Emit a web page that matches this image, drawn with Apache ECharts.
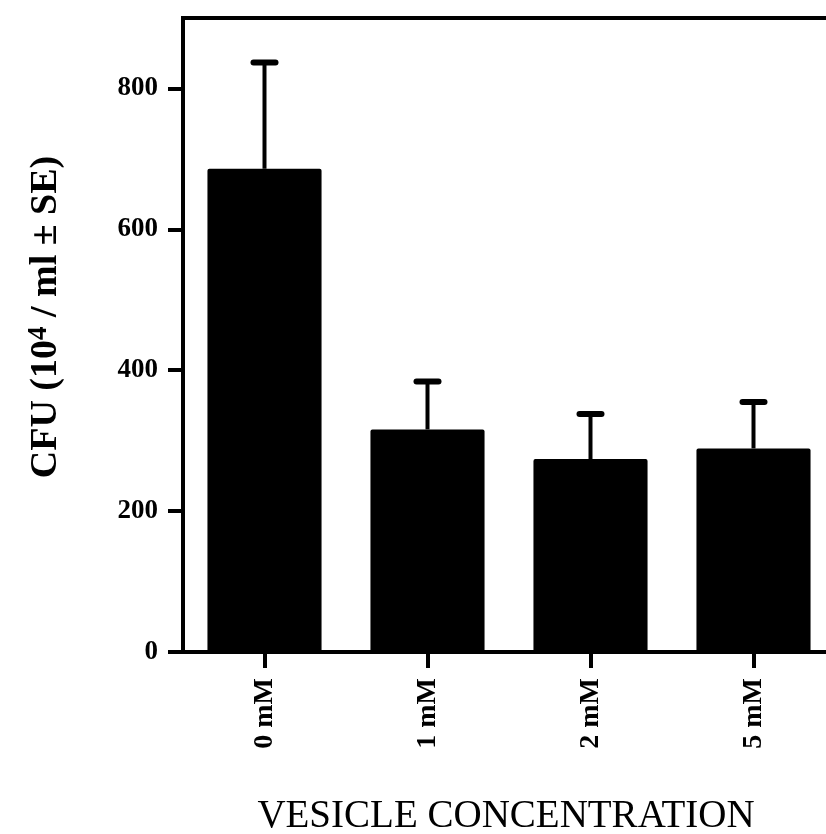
<!DOCTYPE html>
<html>
<head>
<meta charset="utf-8">
<script src="https://cdn.jsdelivr.net/npm/echarts@6/dist/echarts.min.js"></script>
<style>html,body{margin:0;padding:0;background:#fff;}#c{width:826px;height:834px;}</style>
</head>
<body>
<div id="c"></div>
<script>
const categories = ['0 mM', '1 mM', '2 mM', '5 mM'];
const means = [686, 316, 274, 289];
const upperErr = [837, 384, 338, 355];
const yTicks = [0, 200, 400, 600, 800];

const chart = echarts.init(document.getElementById('c'));
const font = '"Liberation Serif", "Times New Roman", serif';
chart.setOption({
  animation: false,
  backgroundColor: '#fff',
  grid: { left: 183, top: 18, width: 652, height: 634, outerBoundsMode: 'none', containLabel: false, show: true, borderColor: '#000', borderWidth: 4, backgroundColor: 'transparent' },
  xAxis: {
    type: 'category',
    data: categories,
    name: 'VESICLE CONCENTRATION',
    nameLocation: 'middle',
    nameGap: 145,
    nameTextStyle: { fontFamily: font, fontSize: 39, color: '#000', padding: [0, 6, 0, 0] },
    axisLine: { lineStyle: { color: '#000', width: 4 } },
    axisTick: { show: true, alignWithLabel: true, length: 16, lineStyle: { color: '#000', width: 4 } },
    axisLabel: { rotate: 90, margin: 26, fontFamily: font, fontWeight: 'bold', fontSize: 28, color: '#000' }
  },
  yAxis: {
    type: 'value',
    min: 0, max: 900, interval: 200,
    name: '{a|CFU (10}{s|4}{a| / ml ± SE)}',
    nameLocation: 'middle',
    nameGap: 116,
    nameTextStyle: {
      padding: [0, 0, 0, 36],
      rich: {
        a: { fontFamily: font, fontWeight: 'bold', fontSize: 38, color: '#000' },
        s: { fontFamily: font, fontWeight: 'bold', fontSize: 27, color: '#000', verticalAlign: 'top', padding: [0, 0, 14, 0] }
      }
    },
    splitLine: { show: false },
    axisLine: { show: true, lineStyle: { color: '#000', width: 4 } },
    axisTick: { show: true, customValues: yTicks, length: 15, lineStyle: { color: '#000', width: 4 } },
    axisLabel: {
      customValues: yTicks,
      margin: 25, fontFamily: font, fontWeight: 'bold', fontSize: 27, color: '#000'
    }
  },
  series: [
    {
      type: 'custom',
      z: 1,
      renderItem: function (params, api) {
        const x = api.value(0);
        const top = api.coord([x, api.value(1)]);
        const base = api.coord([x, api.value(2)]);
        const half = 11;
        return {
          type: 'group',
          children: [
            { type: 'line', shape: { x1: top[0], y1: base[1], x2: top[0], y2: top[1] }, style: { stroke: '#000', lineWidth: 4 } },
            { type: 'line', shape: { x1: top[0] - half, y1: top[1], x2: top[0] + half, y2: top[1] }, style: { stroke: '#000', lineWidth: 6, lineCap: 'round' } }
          ]
        };
      },
      data: categories.map((c, i) => [i, upperErr[i], means[i]])
    },
    {
      type: 'bar',
      z: 2,
      data: means,
      barWidth: '70%',
      itemStyle: { color: '#000', borderRadius: 2 }
    }
  ]
});
</script>
</body>
</html>
